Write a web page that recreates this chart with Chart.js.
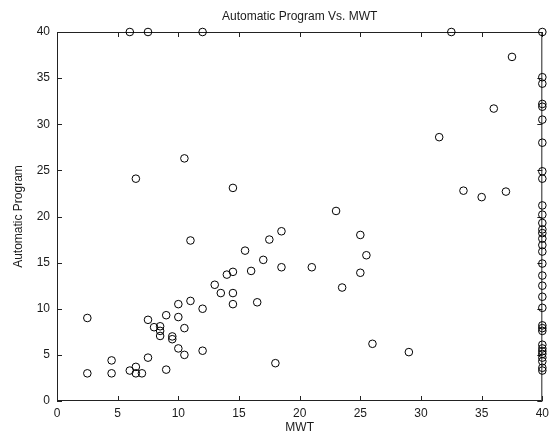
<!DOCTYPE html>
<html>
<head>
<meta charset="utf-8">
<script src="https://cdn.jsdelivr.net/npm/chart.js@4"></script>
<style>
  html, body { margin: 0; padding: 0; background: #fff; }
  #wrap { width: 554px; height: 437px; }
</style>
</head>
<body>
<div id="wrap"><canvas id="mwtChart"></canvas></div>
<script>
// MWT (x) vs Automatic Program (y)
const mwt = [
  6, 7.5, 12, 32.5, 40,
  6.5, 10.5, 14.5,
  2.5, 2.5, 4.5, 4.5, 6, 6.5, 6.5, 7, 7.5, 7.5, 8, 8.5, 8.5, 8.5, 9, 9, 9.5, 9.5,
  10, 10, 10, 10.5, 10.5, 11, 11, 12, 12, 13, 13.5, 14, 14.5, 14.5, 14.5,
  23, 25, 18.5, 17.5, 15.5, 25.5, 17, 16, 18.5, 21, 25, 23.5, 16.5, 26, 29, 18,
  37.5, 36, 31.5, 33.5, 35, 37,
  40, 40, 40, 40, 40, 40, 40, 40, 40, 40, 40, 40, 40, 40, 40, 40,
  40, 40, 40, 40, 40, 40, 40, 40, 40, 40, 40, 40, 40, 40, 40, 40
];
const autoProgram = [
  40, 40, 40, 40, 40,
  24.1, 26.3, 23.1,
  9.0, 3.0, 4.4, 3.0, 3.3, 3.7, 3.0, 3.0, 4.7, 8.8, 8.0, 8.1, 7.6, 7.05, 9.3, 3.4, 7.0, 6.7,
  10.5, 9.1, 5.7, 7.9, 5.0, 17.4, 10.85, 10.0, 5.45, 12.6, 11.7, 13.7, 14.0, 11.7, 10.5,
  20.6, 18.0, 18.4, 17.5, 16.3, 15.8, 15.3, 14.1, 14.5, 14.5, 13.9, 12.3, 10.7, 6.2, 5.3, 4.1,
  37.3, 31.7, 28.6, 22.8, 22.1, 22.7,
  35.1, 34.4, 32.2, 31.9, 30.5, 28.0, 24.9, 24.1, 21.2, 20.2, 19.3, 18.6, 18.2, 17.6, 16.9, 16.2,
  14.9, 13.6, 12.5, 11.3, 10.1, 8.2, 7.9, 7.6, 6.1, 5.7, 5.4, 5.1, 4.7, 4.3, 3.6, 3.3
];
const xTicks = [0, 5, 10, 15, 20, 25, 30, 35, 40];
const yTicks = [0, 5, 10, 15, 20, 25, 30, 35, 40];
const chartTitle = 'Automatic Program Vs. MWT';

const points = mwt.map((v, i) => ({ x: v, y: autoProgram[i] }));

Chart.defaults.font.family = '"Liberation Sans", Arial, sans-serif';
Chart.defaults.font.size = 12;
Chart.defaults.color = '#1a1a1a';

// matlab style box with inward ticks on all four sides, plus the title
const matlabBox = {
  id: 'matlabBox',
  beforeDatasetsDraw(chart) {
    const { ctx, chartArea: a, scales: { x, y } } = chart;
    const len = 5;
    ctx.save();
    ctx.strokeStyle = '#222';
    ctx.lineWidth = 1;
    ctx.beginPath();
    ctx.rect(a.left + 0.5, a.top + 0.5, a.right - a.left - 1, a.bottom - a.top - 1);
    xTicks.forEach(t => {
      const px = Math.round(x.getPixelForValue(t)) + 0.5;
      ctx.moveTo(px, a.bottom);
      ctx.lineTo(px, a.bottom - len);
      ctx.moveTo(px, a.top);
      ctx.lineTo(px, a.top + len);
    });
    yTicks.forEach(t => {
      const py = Math.round(y.getPixelForValue(t)) + 0.5;
      ctx.moveTo(a.left, py);
      ctx.lineTo(a.left + len, py);
      ctx.moveTo(a.right, py);
      ctx.lineTo(a.right - len, py);
    });
    ctx.stroke();
    ctx.restore();
  },
  afterDraw(chart) {
    const { ctx, chartArea: a } = chart;
    ctx.save();
    ctx.font = '12px "Liberation Sans", Arial, sans-serif';
    ctx.fillStyle = '#1a1a1a';
    ctx.textAlign = 'center';
    ctx.textBaseline = 'alphabetic';
    ctx.fillText(chartTitle, (a.left + a.right) / 2, 20);
    ctx.restore();
  }
};

new Chart(document.getElementById('mwtChart'), {
  type: 'scatter',
  data: {
    datasets: [{
      label: 'Automatic Program',
      data: points,
      showLine: false,
      pointStyle: 'circle',
      pointRadius: 3.8,
      pointHoverRadius: 3.8,
      borderWidth: 1,
      borderColor: '#000',
      backgroundColor: 'rgba(0,0,0,0)',
      clip: false
    }]
  },
  options: {
    responsive: true,
    maintainAspectRatio: false,
    animation: false,
    layout: { padding: { top: 32, right: 9, left: 0, bottom: 0 } },
    plugins: {
      legend: { display: false },
      tooltip: { enabled: false }
    },
    scales: {
      x: {
        type: 'linear',
        min: 0,
        max: 40,
        grid: { display: false, drawTicks: false },
        border: { display: false },
        afterBuildTicks: s => { s.ticks = xTicks.map(v => ({ value: v })); },
        ticks: { padding: 5, maxRotation: 0 },
        title: { display: true, text: 'MWT', padding: { top: 0, bottom: 2 } },
        afterFit: s => { s.height = 36; }
      },
      y: {
        type: 'linear',
        min: 0,
        max: 40,
        grid: { display: false, drawTicks: false },
        border: { display: false },
        afterBuildTicks: s => { s.ticks = yTicks.map(v => ({ value: v })); },
        ticks: { padding: 7 },
        title: { display: true, text: 'Automatic Program', padding: { top: 11, bottom: 0 } },
        afterFit: s => { s.width = 57; }
      }
    }
  },
  plugins: [matlabBox]
});
</script>
</body>
</html>
